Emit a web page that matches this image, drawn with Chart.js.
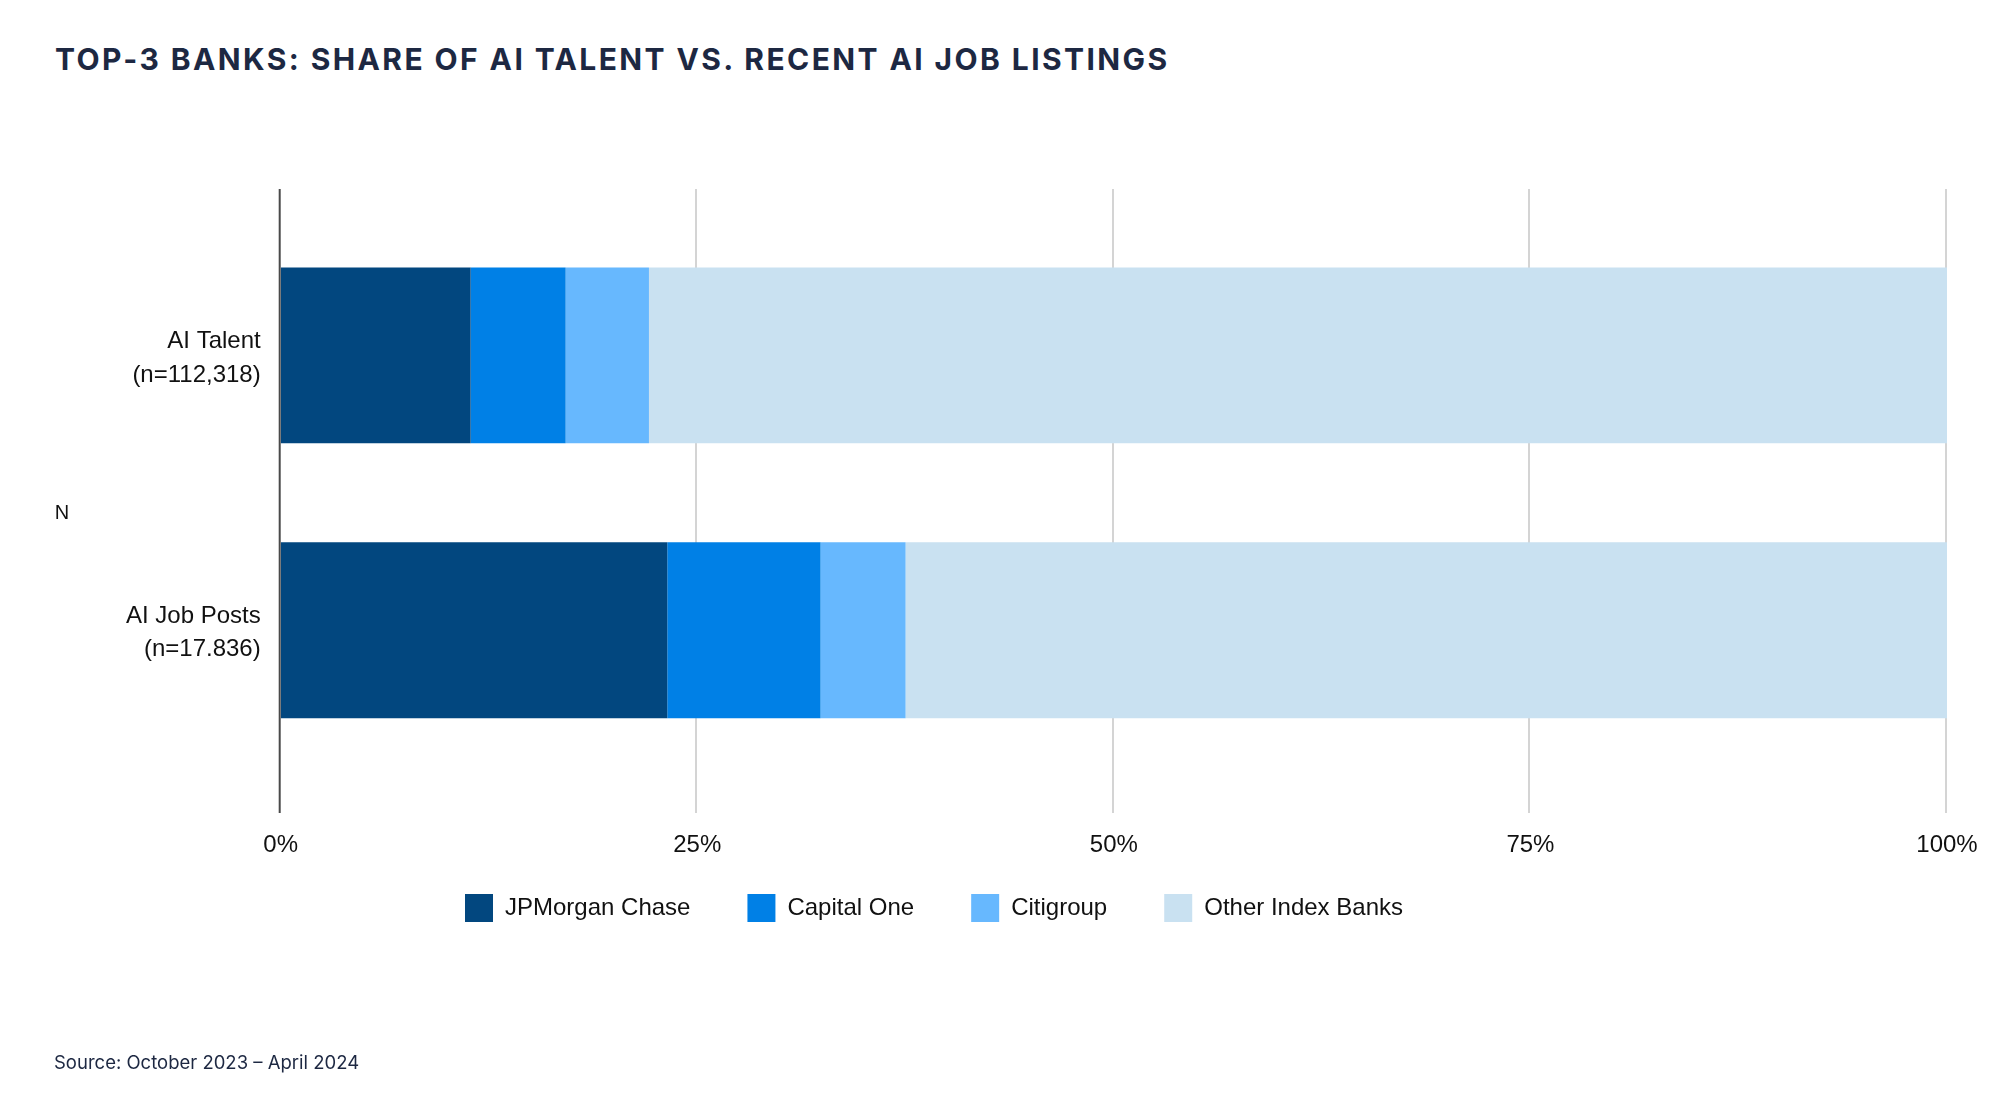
<!DOCTYPE html>
<html>
<head>
<meta charset="utf-8">
<script src="https://cdn.jsdelivr.net/npm/chart.js@4.4.1/dist/chart.umd.min.js"></script>
<style>
  html, body { margin: 0; padding: 0; background: #ffffff; width: 2000px; height: 1104px; overflow: hidden; }
  #title { position: absolute; left: 55px; top: 41px; font-family: Inter, "Noto Sans", sans-serif; font-weight: 700; font-size: 30px; color: #1d2842; white-space: nowrap; letter-spacing: 2.4px; }
  #source { position: absolute; left: 54px; top: 1051px; font-family: Inter, "Noto Sans", sans-serif; font-size: 18.5px; color: #1d2842; white-space: nowrap; }
  #wrap { position: absolute; left: -79px; top: 0; width: 2079px; height: 1104px; }
</style>
</head>
<body>
<div id="title">TOP-3 BANKS: SHARE OF AI TALENT VS. RECENT AI JOB LISTINGS</div>
<div id="wrap"><canvas id="c"></canvas></div>
<div id="source">Source: October 2023 – April 2024</div>
<script>
// ---- data ----
const categories = [["AI Talent", "(n=112,318)"], ["AI Job Posts", "(n=17.836)"]];
const seriesNames = ["JPMorgan Chase", "Capital One", "Citigroup", "Other Index Banks"];
const jpmorgan = [11.4, 23.2];
const capitalOne = [5.7, 9.2];
const citigroup = [5.0, 5.1];
const otherBanks = [77.9, 62.5];
const xTicks = [0, 25, 50, 75, 100];
const yAxisTitle = "N";

// ---- styles ----
const colors = ["#02477f", "#0080e6", "#67b8fe", "#c9e1f1"];
const tickFont = { family: "'Liberation Sans', Arial, sans-serif", size: 24 };

const gridPlugin = {
  id: 'extGrid',
  beforeDatasetsDraw(chart) {
    const ctx = chart.ctx, x = chart.scales.x;
    ctx.save();
    ctx.lineWidth = 2;
    ctx.strokeStyle = '#d4d4d4';
    xTicks.forEach(v => {
      if (v === 0) return;
      const px = Math.round(x.getPixelForValue(v)) - 1;
      ctx.beginPath();
      ctx.moveTo(px, 189);
      ctx.lineTo(px, 813);
      ctx.stroke();
    });
    ctx.restore();
  },
  afterDatasetsDraw(chart) {
    const ctx = chart.ctx, x = chart.scales.x;
    ctx.save();
    ctx.lineWidth = 2;
    ctx.strokeStyle = '#4a4a4a';
    const px = x.getPixelForValue(0) - 1;
    ctx.beginPath();
    ctx.moveTo(px, 189);
    ctx.lineTo(px, 813);
    ctx.stroke();
    // upright y-axis title
    ctx.fillStyle = '#111111';
    ctx.font = "20px 'Liberation Sans', Arial, sans-serif";
    ctx.textAlign = 'center';
    ctx.textBaseline = 'middle';
    ctx.fillText(yAxisTitle, 141, 513);
    ctx.restore();
  }
};

const datasets = [jpmorgan, capitalOne, citigroup, otherBanks].map((d, i) => ({
  label: seriesNames[i],
  data: d,
  backgroundColor: colors[i],
  borderWidth: 0,
  barPercentage: 0.64,
  categoryPercentage: 1.0
}));

new Chart(document.getElementById('c'), {
  type: 'bar',
  data: { labels: categories, datasets },
  plugins: [gridPlugin],
  options: {
    indexAxis: 'y',
    responsive: true,
    maintainAspectRatio: false,
    animation: false,
    layout: { padding: { top: 218, right: 53, bottom: 172, left: 0 } },
    plugins: {
      legend: {
        position: 'bottom',
        labels: {
          boxWidth: 28, boxHeight: 28, padding: 57,
          color: '#111111',
          font: tickFont
        }
      },
      tooltip: { enabled: false }
    },
    scales: {
      x: {
        stacked: true, min: 0, max: 100,
        afterBuildTicks(scale) { scale.ticks = xTicks.map(v => ({ value: v })); },
        afterFit(scale) { scale.height = 69.4; scale.paddingLeft = 0; scale.paddingRight = 0; },
        ticks: { callback: v => v + '%', color: '#111111', font: tickFont, mirror: true, padding: -92, maxRotation: 0, autoSkip: false },
        grid: { display: false, drawTicks: false },
        border: { display: false }
      },
      y: {
        stacked: true,
        afterFit(scale) { scale.width = 359.7; },
        ticks: { color: '#111111', font: { ...tickFont, lineHeight: 1.38 }, padding: 20, labelOffset: 3 },
        grid: { display: false, drawTicks: false },
        border: { display: false },
        title: { display: false }
      }
    }
  }
});
</script>
</body>
</html>
